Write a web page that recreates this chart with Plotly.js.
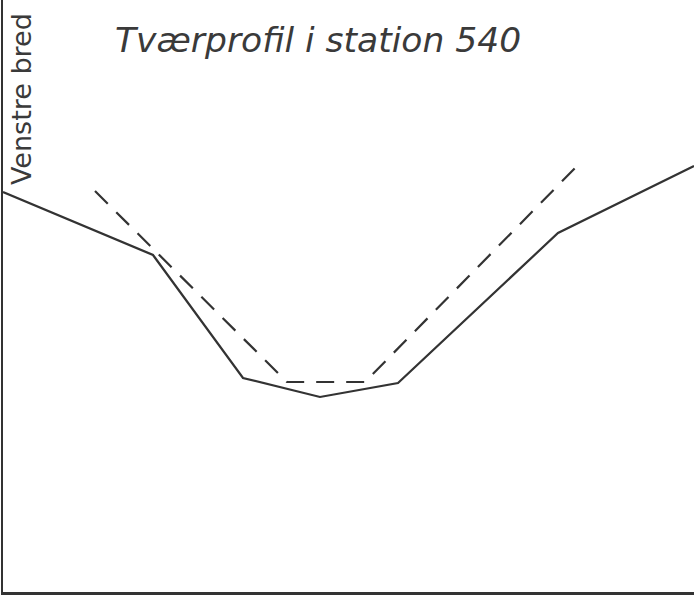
<!DOCTYPE html>
<html>
<head>
<meta charset="utf-8">
<script src="https://cdn.plot.ly/plotly-3.0.1.min.js"></script>
<style>html,body{margin:0;padding:0;background:#fff;}#chart{width:694px;height:601px;}</style>
</head>
<body>
<div id="chart"></div>
<script>
// Existing terrain profile (solid)
const terrainX = [0.15, 7.65, 12.15, 16.0, 19.9, 27.9, 34.7];
const terrainY = [20.4, 17.25, 11.1, 10.15, 10.85, 18.35, 21.7];
// Designed profile (dashed)
const designX = [4.75, 14.35, 18.25, 29.0];
const designY = [20.45, 10.9, 10.9, 21.85];

const titleText = "Tværprofil i station 540";
const leftBankText = "Venstre bred";

const ink = "#333333";

const traces = [
  {x: terrainX, y: terrainY, type: "scatter", mode: "lines",
   line: {color: ink, width: 2.2}, hoverinfo: "skip", showlegend: false},
  {x: designX, y: designY, type: "scatter", mode: "lines",
   line: {color: ink, width: 2.2, dash: "18px,12px"}, hoverinfo: "skip", showlegend: false}
];

const layout = {
  width: 694, height: 601,
  margin: {l: 3, r: 0, t: 0, b: 9, pad: 0},
  paper_bgcolor: "#ffffff", plot_bgcolor: "#ffffff",
  showlegend: false,
  xaxis: {range: [0.15, 34.7], showgrid: false, zeroline: false, showticklabels: false,
          ticks: "", showline: true, linecolor: ink, linewidth: 3, fixedrange: true},
  yaxis: {range: [0.4, 30], showgrid: false, zeroline: false, showticklabels: false,
          ticks: "", showline: true, linecolor: ink, linewidth: 2, fixedrange: true},
  annotations: [
    {text: titleText, xref: "paper", yref: "paper", x: (113-3)/691, y: 1 - 40/592,
     xanchor: "left", yanchor: "middle", showarrow: false,
     font: {family: "DejaVu Sans", size: 34.5, color: "#3a3a3a", style: "italic"}},
    {text: leftBankText, xref: "paper", yref: "paper", x: (22-3)/691, y: 1 - 99/592,
     xanchor: "center", yanchor: "middle", showarrow: false, textangle: -90,
     font: {family: "DejaVu Sans", size: 27, color: "#3a3a3a"}}
  ]
};

Plotly.newPlot("chart", traces, layout, {displayModeBar: false, staticPlot: true});
</script>
</body>
</html>
